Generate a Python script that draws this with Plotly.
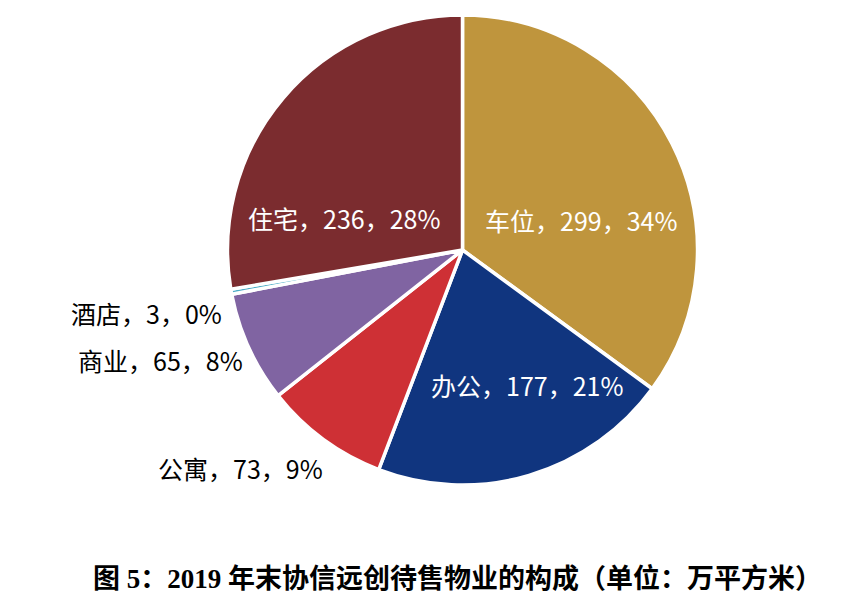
import plotly.graph_objects as go

categories = ["车位", "办公", "公寓", "商业", "酒店", "住宅"]
values = [299, 177, 73, 65, 3, 236]
pct_labels = ["34%", "21%", "9%", "8%", "0%", "28%"]
colors = ["#BF953D", "#10357F", "#CE3035", "#8064A2", "#4BACC6", "#7B2C2F"]
text_colors = ["white", "white", "black", "black", "black", "white"]
# label anchor positions (paper coords)
label_x = [0.674, 0.611, 0.279, 0.186, 0.170, 0.399]
label_y = [0.639, 0.369, 0.232, 0.410, 0.487, 0.643]

W, H = 862, 610
cx, cy, r = 462.5, 250, 235

fig = go.Figure()
fig.add_trace(go.Pie(
    labels=categories, values=values, sort=False, direction="clockwise", rotation=0,
    marker=dict(colors=colors, line=dict(color="white", width=3.5)),
    textinfo="none", hoverinfo="label+value+percent", showlegend=False,
    domain=dict(x=[(cx - r) / W, (cx + r) / W], y=[(H - cy - r) / H, (H - cy + r) / H]),
))

for c, v, p, tc, x, y in zip(categories, values, pct_labels, text_colors, label_x, label_y):
    fig.add_annotation(x=x, y=y, xref="paper", yref="paper", showarrow=False,
                       text=f"{c}，{v}，{p}", xanchor="center", yanchor="middle",
                       font=dict(family="Noto Sans CJK SC", size=25, color=tc))

fig.add_annotation(x=457 / W, y=(H - 578) / H, xref="paper", yref="paper", showarrow=False,
                   text="<b>图 5：2019 年末协信远创待售物业的构成（单位：万平方米）</b>",
                   xanchor="center", yanchor="middle",
                   font=dict(family="Liberation Serif, Noto Sans CJK SC", size=27, color="black"))

fig.update_layout(width=W, height=H, margin=dict(l=0, r=0, t=0, b=0),
                  paper_bgcolor="white", plot_bgcolor="white")
fig.write_html("out.html")
